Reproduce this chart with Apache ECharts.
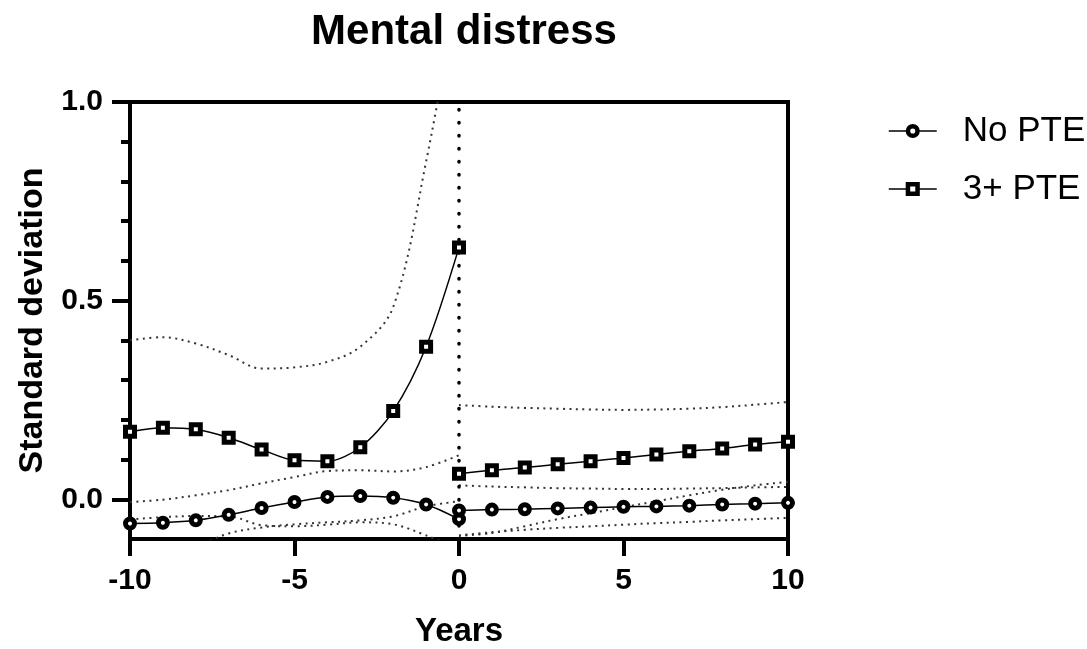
<!DOCTYPE html>
<html>
<head>
<meta charset="utf-8">
<script src="https://cdn.jsdelivr.net/npm/echarts@6/dist/echarts.min.js"></script>
<style>
html,body{margin:0;padding:0;background:#fff;}
#chart{width:1087px;height:649px;}
</style>
</head>
<body>
<div id="chart"></div>
<script>
// ---- data ----
var yearsPre = [-10,-9,-8,-7,-6,-5,-4,-3,-2,-1,0];
var yearsPost = [0,1,2,3,4,5,6,7,8,9,10];
var noPtePre = [-0.061,-0.059,-0.053,-0.039,-0.022,-0.007,0.006,0.008,0.004,-0.013,-0.050];
var noPtePost = [-0.028,-0.026,-0.025,-0.023,-0.021,-0.019,-0.018,-0.016,-0.013,-0.011,-0.009];
var ptePre = [0.170,0.180,0.176,0.155,0.125,0.098,0.096,0.131,0.222,0.384,0.634];
var ptePost = [0.064,0.073,0.080,0.088,0.096,0.104,0.113,0.121,0.128,0.138,0.145];
// confidence bands (dotted)
var ptePreUpper = [0.400,0.408,0.392,0.363,0.329,0.332,0.346,0.384,0.484,0.850,1.300];
var ptePreLower = [-0.007,-0.001,0.010,0.023,0.040,0.056,0.071,0.073,0.070,0.081,0.111];
var noPreUpper = [-0.051,-0.045,-0.042,-0.043,-0.065,-0.068,-0.064,-0.058,-0.063,-0.091,-0.125];
var noPreLower = [-0.170,-0.150,-0.120,-0.086,-0.071,-0.063,-0.058,-0.053,-0.043,-0.018,-0.005];
var ptePostUpper = [0.237,0.233,0.230,0.228,0.226,0.225,0.226,0.228,0.232,0.238,0.245];
var ptePostLower = [0.035,0.032,0.030,0.028,0.027,0.026,0.026,0.027,0.028,0.030,0.031];
var noPostUpper = [-0.092,-0.085,-0.068,-0.050,-0.035,-0.020,-0.005,0.010,0.024,0.035,0.044];
var noPostLower = [-0.091,-0.083,-0.077,-0.072,-0.068,-0.064,-0.060,-0.057,-0.053,-0.050,-0.047];
var yMajorTicks = [0, 0.5, 1.0];
var yMinorTicks = [0.1,0.2,0.3,0.4,0.6,0.7,0.8,0.9];
var vLine = [[0,-0.1],[0,1.0]];

function pairs(xs, ys){ return xs.map(function(x,i){ return [x, ys[i]]; }); }

var FONT = '"Liberation Sans", Arial, Helvetica, sans-serif';

function meanSeries(name, xs, ys, symbol){
  return {
    name: name, type: 'line', data: pairs(xs, ys), smooth: 0.3,
    symbol: symbol, symbolSize: 9, z: 5,
    lineStyle: {color: '#000', width: 1.5},
    itemStyle: {color: '#fff', borderColor: '#000', borderWidth: 5}
  };
}
function ciSeries(xs, ys){
  return {
    type: 'line', data: pairs(xs, ys), smooth: 0.35, symbol: 'none', z: 3,
    silent: true,
    lineStyle: {color: '#333', width: 2, type: [2, 4.5]}
  };
}

var chart = echarts.init(document.getElementById('chart'), null, {renderer: 'canvas'});
chart.setOption({
  animation: false,
  backgroundColor: '#fff',
  title: {
    text: 'Mental distress', left: 459, top: 6, textAlign: 'center',
    textStyle: {fontFamily: FONT, fontSize: 42, fontWeight: 'bold', color: '#000'}
  },
  legend: {
    left: 888, top: 111, orient: 'vertical', padding: 0, itemWidth: 48, itemHeight: 12, itemGap: 18,
    data: ['No PTE', '3+ PTE'],
    itemStyle: {color: '#fff', borderColor: '#000', borderWidth: 4.5},
    lineStyle: {color: '#000', width: 1.5},
    textStyle: {fontFamily: FONT, fontSize: 35, color: '#000', padding: [0,0,0,21], lineHeight: 40}
  },
  grid: {left: 130, right: 299, top: 102, bottom: 110, show: true, borderColor: '#000', borderWidth: 4,
    containLabel: false, outerBoundsMode: 'none'},
  xAxis: {
    type: 'value', min: -10, max: 10, interval: 5,
    name: 'Years', nameLocation: 'middle', nameGap: 76,
    nameTextStyle: {fontFamily: FONT, fontSize: 33, fontWeight: 'bold', color: '#000'},
    axisLine: {show: true, onZero: false, lineStyle: {color: '#000', width: 4}},
    axisTick: {show: true, length: 17, lineStyle: {color: '#000', width: 4}},
    axisLabel: {fontFamily: FONT, fontSize: 30, fontWeight: 'bold', color: '#000', margin: 27,
      formatter: function(v){ return String(v); }},
    splitLine: {show: false}
  },
  yAxis: [{
    type: 'value', min: -0.1, max: 1.0,
    name: 'Standard deviation', nameLocation: 'middle', nameGap: 80,
    nameTextStyle: {fontFamily: FONT, fontSize: 34, fontWeight: 'bold', color: '#000'},
    axisLine: {show: true, onZero: false, lineStyle: {color: '#000', width: 4}},
    axisTick: {show: true, length: 18, customValues: yMajorTicks, lineStyle: {color: '#000', width: 4}},
    axisLabel: {fontFamily: FONT, fontSize: 30, fontWeight: 'bold', color: '#000', margin: 27,
      customValues: yMajorTicks, formatter: function(v){ return v.toFixed(1); }},
    splitLine: {show: false}
  }, {
    type: 'value', min: -0.1, max: 1.0, position: 'left', offset: 0,
    axisLine: {show: false, onZero: false},
    axisTick: {show: true, length: 9, customValues: yMinorTicks, lineStyle: {color: '#000', width: 4}},
    axisLabel: {show: false},
    splitLine: {show: false}
  }],
  series: [
    ciSeries(yearsPre, ptePreUpper),
    ciSeries(yearsPre, ptePreLower),
    ciSeries(yearsPre, noPreUpper),
    ciSeries(yearsPre, noPreLower),
    ciSeries(yearsPost, ptePostUpper),
    ciSeries(yearsPost, ptePostLower),
    ciSeries(yearsPost, noPostUpper),
    ciSeries(yearsPost, noPostLower),
    {
      type: 'line', data: vLine, symbol: 'none', z: 4, silent: true,
      lineStyle: {color: '#000', width: 3.5, type: [0.5, 12.5], cap: 'round'}
    },
    meanSeries('No PTE', yearsPre, noPtePre, 'circle'),
    meanSeries('No PTE', yearsPost, noPtePost, 'circle'),
    meanSeries('3+ PTE', yearsPre, ptePre, 'rect'),
    meanSeries('3+ PTE', yearsPost, ptePost, 'rect')
  ]
});
</script>
</body>
</html>
